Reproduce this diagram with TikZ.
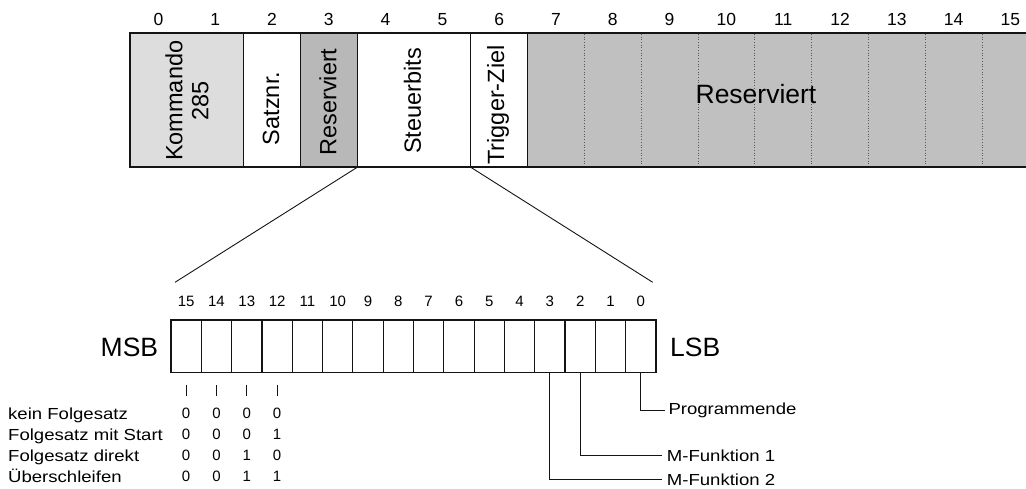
\documentclass[tikz,border=0pt]{standalone}
\usepackage{fontspec}
\setmainfont{Liberation Sans}
\newfontfamily\widefont[FakeStretch=1.16]{Liberation Sans}
\usetikzlibrary{calc}
\definecolor{ink}{HTML}{141414}
\definecolor{lightfill}{HTML}{DDDDDD}
\definecolor{resfill}{HTML}{C0C0C0}
\definecolor{res1fill}{HTML}{B8B8B8}
\begin{document}
\begin{tikzpicture}[x=1pt,y=-1pt,
  every node/.style={text=black},
  field/.style={draw=ink, line width=1.3pt, inner sep=0pt, outer sep=0pt, anchor=north west, minimum height=134.6pt},
  cell/.style={draw=ink, line width=1.2pt, inner sep=0pt, outer sep=0pt, anchor=north west, minimum width=30.3125pt, minimum height=52.7pt},
  vtext/.style={rotate=90, inner sep=0pt, align=center, font=\fontsize{23.5}{26}\selectfont},
  topnum/.style={anchor=base, inner sep=0pt, font=\fontsize{17.5}{20}\selectfont},
  botnum/.style={anchor=base, inner sep=0pt, font=\fontsize{15}{17}\selectfont},
  bignote/.style={inner sep=0pt, font=\fontsize{26.5}{30}\selectfont},
  lbl/.style={anchor=base west, inner sep=0pt, font=\widefont\fontsize{16}{19}\selectfont},
  rlbl/.style={anchor=west, inner ysep=0pt, font=\widefont\fontsize{16}{19}\selectfont},
  leader/.style={draw=ink, line width=0.9pt},
  funnel/.style={draw=ink, line width=0.9pt},
  divider/.style={draw=ink!70, dotted, line width=0.7pt}
]
\useasboundingbox (0,0) rectangle (1026,488);
\clip (0,0) rectangle (1026,488);

% top numbers
\foreach \i in {0,...,15}
  \node[topnum] (n\i) at ({130+(\i+0.5)*56.8},25.5) {\i};

% fields of the command word
\node[field, fill=lightfill, minimum width=113.6pt] (kmd) at (130,32.7) {};
\node[field, fill=white, minimum width=56.8pt] (satz) at (243.6,32.7) {};
\node[field, fill=res1fill, minimum width=56.8pt] (res1) at (300.4,32.7) {};
\node[field, fill=white, minimum width=113.6pt] (steu) at (357.2,32.7) {};
\node[field, fill=white, minimum width=56.8pt] (trig) at (470.8,32.7) {};
\node[field, fill=resfill, minimum width=511.2pt] (res2) at (527.6,32.7) {};
\foreach \k in {1,...,8}
  \draw[divider] ({527.6+\k*56.8},33.8) -- ({527.6+\k*56.8},166.2);
\draw[ink, line width=2pt] (kmd.north west) -- (res2.north east);
\draw[ink, line width=2pt] (kmd.south west) -- (res2.south east);
\draw[ink, line width=2pt] ([yshift=-1pt]kmd.north west) -- ([yshift=1pt]kmd.south west);

% field texts
\node[vtext] (tkmd) at (187,100.8) {Kommando\\285};
\node[vtext] (tsatz) at (271,108.5) {Satznr.};
\node[vtext] (tres1) at (328,102) {Reserviert};
\node[vtext] (tsteu) at (412.5,101) {Steuerbits};
\node[vtext] (ttrig) at (498,105) {Trigger-Ziel};
\node[bignote, anchor=base] (tres2) at (756,103.3) {Reserviert};

% control word cells
\foreach \i in {0,...,15} {
  \node[cell] (b\i) at ({171+(15-\i)*30.3125},320) {};
  \node[botnum] (bn\i) at ({171+(15.5-\i)*30.3125},306) {\i};
}

% funnel lines
\coordinate (fl) at (175,282.3);
\coordinate (fr) at (652.7,282.3);
\draw[funnel] (steu.south west) -- (fl);
\draw[funnel] (steu.south east) -- (fr);

\node[bignote, anchor=base east] (msb) at (158.3,356.5) {MSB};
\node[bignote, anchor=base west] (lsb) at (670,356.5) {LSB};

% ticks under bits 15..12
\foreach \i in {15,14,13,12}
  \draw[leader] (b\i.south) ++(0,12.3) -- ++(0,10.5);

% table
\node[lbl] (r1) at (8,419.8) {kein Folgesatz};
\node[lbl] (r2) at (8,440.5) {Folgesatz mit Start};
\node[lbl] (r3) at (8,461.3) {Folgesatz direkt};
\node[lbl] (r4) at (8,482) {Überschleifen};
\foreach \y/\a/\b/\c/\d in {418.8/0/0/0/0, 439.5/0/0/0/1, 460.3/0/0/1/0, 481/0/0/1/1} {
  \node[botnum] at ($(b15.south)+(0,\y-372.7)$) {\a};
  \node[botnum] at ($(b14.south)+(0,\y-372.7)$) {\b};
  \node[botnum] at ($(b13.south)+(0,\y-372.7)$) {\c};
  \node[botnum] at ($(b12.south)+(0,\y-372.7)$) {\d};
}

% right leaders
\node[rlbl, inner xsep=3.3pt] (pe) at (665,410.5) {Programmende};
\node[rlbl, inner xsep=5pt] (mf1) at (661.7,455.5) {M-Funktion 1};
\node[rlbl, inner xsep=5pt] (mf2) at (661.7,479.3) {M-Funktion 2};
\draw[leader] (b0.south) |- (pe.west);
\draw[leader] (b2.south) |- (mf1.west);
\draw[leader] (b3.south) |- (mf2.west);
\end{tikzpicture}
\end{document}
